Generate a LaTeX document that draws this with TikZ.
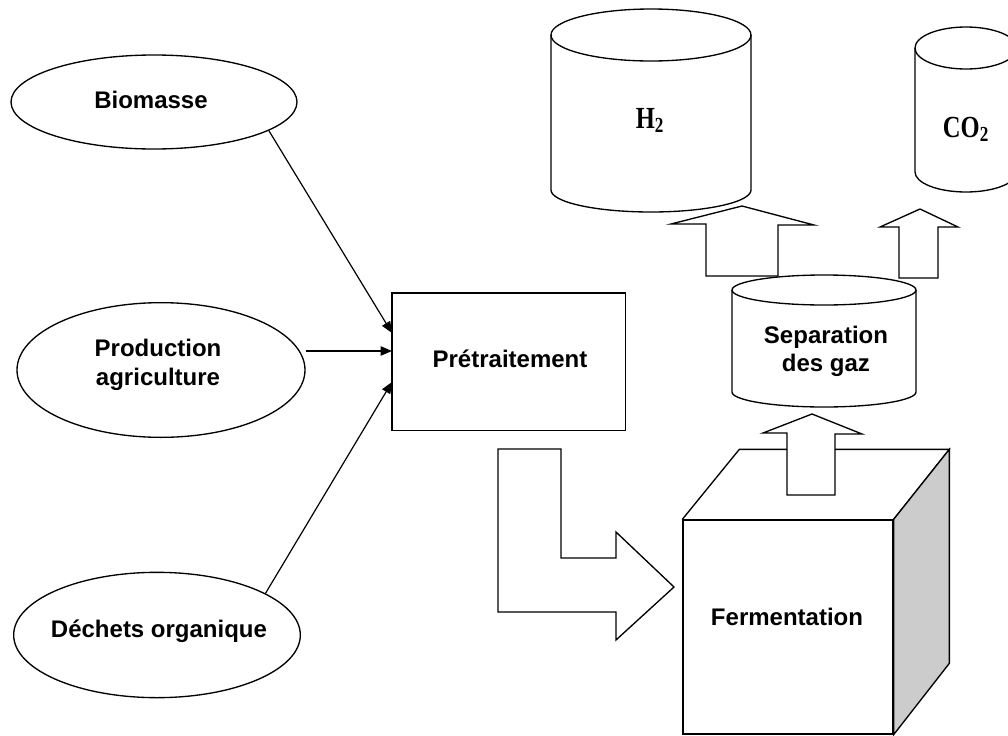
\documentclass[tikz,border=0pt]{standalone}
\usepackage{fontspec}
\setmainfont{Liberation Sans}
\newfontfamily\gasfont[FakeStretch=0.8]{Liberation Serif}
\usetikzlibrary{shapes.geometric,arrows.meta}
\begin{document}
\begin{tikzpicture}[x=0.75pt,y=-0.75pt,
  line width=1pt,
  lbl/.style={font=\bfseries\fontsize{18}{21.5}\selectfont, align=center, inner sep=0pt},
  gas/.style={font=\gasfont\bfseries\fontsize{23}{25}\selectfont, inner sep=0pt},
  src/.style={ellipse, draw, inner sep=0pt},
  conn/.style={-{Triangle[length=8.5pt,width=7pt]}, line width=0.9pt},
  blockarrow/.style={draw, fill=white, line width=1pt, line join=miter},
  side/.style={draw, fill=gray!40}
]
\useasboundingbox (0,0) rectangle (1008,736);
\clip (0,0) rectangle (1008,736);

% source ellipses
\node[src, minimum width=214.5pt, minimum height=70.5pt] (bio) at (154,102) {};
\node[src, minimum width=216pt, minimum height=101pt] (prod) at (161,370) {};
\node[src, minimum width=215pt, minimum height=94pt] (dec) at (157,635) {};
\node[lbl, anchor=base] (biot) at (151,108) {Biomasse};
\node[lbl] (prodt) at (158,365) {Production\\agriculture};
\node[lbl, anchor=base] (dect) at (159,637) {Déchets organique};

% pretreatment box
\node[draw, minimum width=175pt, minimum height=103pt, inner sep=0pt] (pre) at (508.5,361.5) {};
\node[lbl, anchor=base] (pret) at (510,367) {Prétraitement};
\coordinate (in1) at (392,333);
\coordinate (in2) at (392,351);
\coordinate (in3) at (392,382);
\draw[conn] (bio.-14) -- (in1);
\draw[conn] (prod.east |- in2) -- (in2);
\draw[conn] (dec.21) -- (in3);

% L-shaped block arrow
\draw[blockarrow] (498,449) -- (561,449) -- (561,558) -- (616,558) -- (616,532)
  -- (674,587) -- (616,640) -- (616,612) -- (498,612) -- cycle;

% fermentation cube
\node[draw, fill=white, minimum width=157.5pt, minimum height=160.5pt, inner sep=0pt] (ferm) at (788,627) {};
\draw (ferm.north west) -- ++(57,-70) coordinate (ftl) -- ++(210,0) coordinate (ftr) -- (ferm.north east);
\draw[side] (ferm.north east) -- (ftr) -- ++(0,214) -- (ferm.south east) -- cycle;
\node[lbl, anchor=base] (fermt) at (787,625) {Fermentation};

% arrow cube -> separation
\draw[blockarrow] (787,495) -- (787,433) -- (763,433) -- (812,414) -- (862,434)
  -- (835,434) -- (835,495) -- cycle;

% separation cylinder
\draw[fill=white] (732,290) -- (732,392) arc[start angle=180, end angle=360, x radius=69pt, y radius=11.25pt] -- (916,290);
\draw (824,290) ellipse[x radius=69pt, y radius=11.25pt];
\node[lbl] (sep) at (826,351.5) {Separation\\des gaz};

% H2 cylinder
\draw[fill=white] (551,35) -- (551,190) arc[start angle=180, end angle=360, x radius=75pt, y radius=16.5pt] -- (751,35);
\draw (651,35) ellipse[x radius=75pt, y radius=19.5pt];
\node[gas, anchor=base] (h2) at (650,128) {H\textsubscript{2}};

% CO2 cylinder
\draw[fill=white] (915,48) -- (915,172) arc[start angle=180, end angle=360, x radius=38.25pt, y radius=15pt] -- (1017,48);
\draw (966,48) ellipse[x radius=38.25pt, y radius=15.75pt];
\node[gas, anchor=base] (co2) at (966,137) {CO\textsubscript{2}};

% arrows separation -> gases
\draw[blockarrow] (706,276) -- (706,224) -- (671,224) -- (742,206) -- (814,225)
  -- (778,225) -- (778,276) -- cycle;
\draw[blockarrow] (899,278) -- (899,227) -- (880,227) -- (920,209) -- (958,227)
  -- (938,227) -- (938,278) -- cycle;
\end{tikzpicture}
\end{document}
